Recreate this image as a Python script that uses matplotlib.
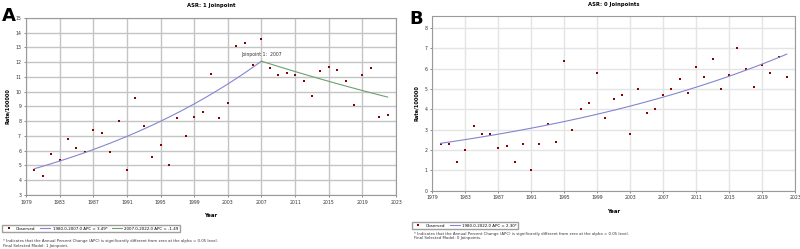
import numpy as np
import matplotlib
matplotlib.use("Agg")
import matplotlib.pyplot as plt

plt.rcParams['font.family'] = ['DejaVu Sans']

# --------------------
# Data
# --------------------
years = list(range(1980, 2023))

asr_a = [4.7, 4.3, 5.8, 5.4, 6.8, 6.2, 5.9, 7.4, 7.2, 5.9,
         8.0, 4.7, 9.6, 7.7, 5.6, 6.4, 5.0, 8.2, 7.0, 8.3,
         8.6, 11.2, 8.2, 9.2, 13.1, 13.3, 11.8, 13.6, 11.6, 11.1,
         11.3, 11.1, 10.7, 9.7, 11.4, 11.7, 11.5, 10.7, 9.1, 11.1,
         11.6, 8.3, 8.4]

asr_b = [2.3, 2.3, 1.4, 2.0, 3.2, 2.8, 2.8, 2.1, 2.2, 1.4,
         2.3, 1.0, 2.3, 3.3, 2.4, 6.4, 3.0, 4.0, 4.3, 5.8,
         3.6, 4.5, 4.7, 2.8, 5.0, 3.8, 4.0, 4.7, 5.0, 5.5,
         4.8, 6.1, 5.6, 6.5, 5.0, 5.7, 7.0, 6.0, 5.1, 6.2,
         5.8, 6.6, 5.6]

# modelled lines (read from the drawn fit)
joinpoint_year = 2007
fit_a_start = 4.78          # modelled rate at 1980
apc_a = [3.49, -1.49]       # APC per segment
fit_b_start = 2.33          # modelled rate at 1980
fit_b_end = 6.72            # modelled rate at 2022

xticks = list(range(1979, 2024, 4))

leg_a = ["Observed", "1980.0-2007.0 APC = 3.49*", "2007.0-2022.0 APC = -1.49"]
leg_b = ["Observed", "1980.0-2022.0 APC = 2.30*"]
note = "* Indicates that the Annual Percent Change (APC) is significantly different from zero at the alpha = 0.05 level."

RED = "#8b0000"
BLUE = "#8585d0"
GREEN = "#6f9f6f"

# --------------------
# Fitted curves
# --------------------
t = np.array(years, dtype=float)
seg1 = np.minimum(t, joinpoint_year) - 1980
seg2 = np.maximum(t - joinpoint_year, 0)
fit_a = fit_a_start * (1 + apc_a[0] / 100) ** seg1 * (1 + apc_a[1] / 100) ** seg2

rate_b = (fit_b_end / fit_b_start) ** (1 / (years[-1] - years[0]))
fit_b = fit_b_start * rate_b ** (t - 1980)

fig = plt.figure(figsize=(8, 2.49), dpi=100)


def style_axes(ax, grid_color, grid_lw):
    ax.set_xlim(1979, 2023)
    ax.set_xticks(xticks)
    ax.tick_params(labelsize=3.3, length=1.5, width=0.4, colors="#333333", pad=2)
    ax.grid(True, color=grid_color, lw=grid_lw)
    ax.set_axisbelow(True)
    for s in ax.spines.values():
        s.set_color("#9a9a9a")
        s.set_linewidth(0.8)
    ax.set_xlabel("Year", fontsize=3.8, fontweight="bold", labelpad=6)
    ax.set_ylabel("Rate/100000", fontsize=3.6, fontweight="bold", labelpad=4)


def legend(ax, handles, labels, x, y, ncol):
    ax.legend(handles, labels, loc="upper left", bbox_to_anchor=(x, y),
              bbox_transform=fig.transFigure, ncol=ncol, fontsize=2.9,
              frameon=True, fancybox=False, edgecolor="#888888",
              handlelength=2.4, columnspacing=1.2, handletextpad=0.6,
              borderpad=0.4, borderaxespad=0)


# --------------------
# Panel A
# --------------------
axa = fig.add_axes([0.0325, 0.217, 0.4625, 0.711])
style_axes(axa, "#c4c4c4", 1.0)
axa.set_ylim(3, 15)
axa.set_yticks(range(3, 16))
ja = years.index(joinpoint_year)
pts, = axa.plot(years, asr_a, "s", color=RED, ms=1.6, mew=0)
l1, = axa.plot(years[:ja + 1], fit_a[:ja + 1], color=BLUE, lw=0.8)
l2, = axa.plot(years[ja:], fit_a[ja:], color=GREEN, lw=0.8)
axa.annotate("Joinpoint 1:  2007", (joinpoint_year, fit_a[ja]), xytext=(0, 3),
             textcoords="offset points", ha="center", va="bottom", fontsize=3.3, color="#333333")
axa.set_title("ASR: 1 Joinpoint", fontsize=3.8, fontweight="bold", pad=8)
legend(axa, [pts, l1, l2], leg_a, 0.003, 0.096, 3)
fig.text(0.004, 0.032, note, fontsize=2.8, color="#333333", va="center")
fig.text(0.004, 0.012, "Final Selected Model: 1 Joinpoint.", fontsize=2.8, color="#333333", va="center")
fig.text(0.002, 0.915, "A", fontsize=13, fontweight="bold")

# --------------------
# Panel B
# --------------------
axb = fig.add_axes([0.5404, 0.2345, 0.4534, 0.703])
style_axes(axb, "#e4e4e4", 1.0)
axb.set_ylim(0, 8.62)
axb.set_yticks(range(0, 9))
pts_b, = axb.plot(years, asr_b, "s", color=RED, ms=1.6, mew=0)
lb, = axb.plot(years, fit_b, color=BLUE, lw=0.8)
axb.set_title("ASR: 0 Joinpoints", fontsize=3.8, fontweight="bold", pad=7)
legend(axb, [pts_b, lb], leg_b, 0.515, 0.108, 2)
fig.text(0.517, 0.062, note, fontsize=2.8, color="#333333", va="center")
fig.text(0.517, 0.046, "Final Selected Model: 0 Joinpoints.", fontsize=2.8, color="#333333", va="center")
fig.text(0.512, 0.905, "B", fontsize=13, fontweight="bold")

fig.savefig("out.png", dpi=100)
